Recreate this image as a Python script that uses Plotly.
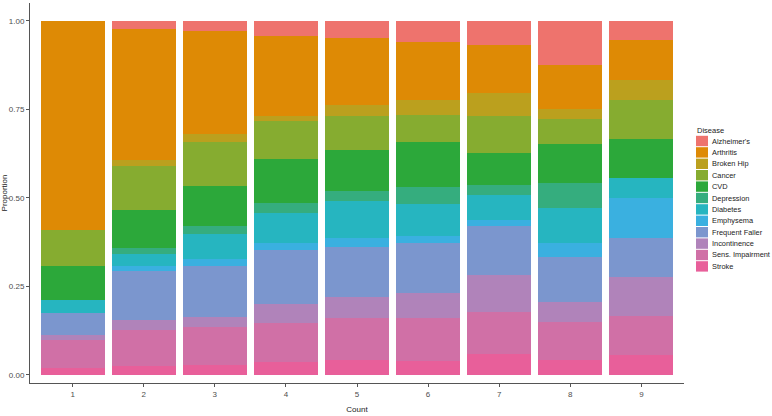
import plotly.graph_objects as go

counts = [1, 2, 3, 4, 5, 6, 7, 8, 9]

diseases = ["Alzheimer's", "Arthritis", "Broken Hip", "Cancer", "CVD", "Depression",
            "Diabetes", "Emphysema", "Frequent Faller", "Incontinence",
            "Sens. Impairment", "Stroke"]

alzheimers = [0, .023, .030, .044, .050, .059, .068, .124, .054]
arthritis = [.590, .370, .289, .224, .188, .164, .137, .124, .113]
broken_hip = [0, .019, .024, .016, .030, .043, .064, .028, .056]
cancer = [.102, .122, .124, .106, .096, .077, .105, .071, .111]
cvd = [.098, .108, .113, .124, .118, .127, .091, .111, .110]
depression = [0, .016, .021, .028, .028, .047, .026, .071, 0]
diabetes = [.034, .036, .072, .085, .104, .091, .073, .097, .056]
emphysema = [0, .014, .019, .021, .024, .021, .017, .041, .112]
frequent_faller = [.063, .137, .145, .151, .141, .141, .137, .125, .111]
incontinence = [.014, .028, .028, .055, .061, .069, .105, .056, .111]
sens_impairment = [.080, .104, .106, .111, .118, .121, .118, .108, .110]
stroke = [.019, .024, .028, .035, .042, .040, .059, .042, .055]

values = [alzheimers, arthritis, broken_hip, cancer, cvd, depression, diabetes,
          emphysema, frequent_faller, incontinence, sens_impairment, stroke]

colors = ["#EE736D", "#DE8A05", "#BBA01E", "#86AC30", "#2CA83A", "#35AD7E",
          "#26B5C0", "#3AB0E0", "#7B96CE", "#B083BA", "#D070A6", "#E85F9A"]

# page geometry (pixels) used to place the hand-drawn legend
W, H = 772, 416
L, R, T, B = 30, 88, 3, 33
pw, ph = W - L - R, H - T - B


def px(x):
    return (x - L) / pw


def py(y):
    return 1 - (y - T) / ph


fig = go.Figure()
# ggplot stacks the first level on top, so add from the bottom up
for name, vals, col in reversed(list(zip(diseases, values, colors))):
    fig.add_trace(go.Bar(x=counts, y=vals, name=name, marker_color=col,
                         marker_line_width=0, showlegend=False))

# legend drawn by hand so the row spacing matches ggplot's compact keys
fig.add_annotation(x=px(695), y=py(130), xref="paper", yref="paper",
                   text="Disease", showarrow=False, xanchor="left", yanchor="middle",
                   font=dict(size=7.5, color="#222222"))
for i, (name, col) in enumerate(zip(diseases, colors)):
    yc = 141 + i * 11.4
    fig.add_shape(type="rect", xref="paper", yref="paper",
                  x0=px(696), x1=px(708), y0=py(yc - 5.2), y1=py(yc + 5.2),
                  fillcolor=col, line_width=0)
    fig.add_annotation(x=px(710), y=py(yc), xref="paper", yref="paper",
                       text=name, showarrow=False, xanchor="left", yanchor="middle",
                       font=dict(size=7.4, color="#222222"))

fig.update_layout(
    barmode="stack",
    barnorm="fraction",
    bargap=0.1,
    width=W, height=H,
    margin=dict(l=L, r=R, t=T, b=B, autoexpand=False),
    plot_bgcolor="white",
    paper_bgcolor="white",
    font=dict(family="Liberation Sans, Arial, sans-serif", size=8, color="#4D4D4D"),
)
fig.update_xaxes(
    range=[0.4, 9.6], tickvals=counts, ticktext=[str(c) for c in counts],
    showline=True, linecolor="#555555", linewidth=1, ticks="outside", ticklen=3,
    tickcolor="#555555", showgrid=False, zeroline=False, automargin=False,
    title=dict(text="Count", font=dict(size=8, color="#222222"), standoff=8),
)
fig.update_yaxes(
    range=[-0.023, 1.05], tickvals=[0, .25, .5, .75, 1],
    ticktext=["0.00", "0.25", "0.50", "0.75", "1.00"],
    showline=True, linecolor="#555555", linewidth=1, ticks="outside", ticklen=3,
    tickcolor="#555555", showgrid=False, zeroline=False, automargin=False,
    title=dict(text="Proportion", font=dict(size=8, color="#222222"), standoff=3),
)

# drop the default body margin so the 772x416 figure fills the window exactly
fig.write_html("out.html", config={"displayModeBar": False},
               post_script="document.body.style.margin='0';")
